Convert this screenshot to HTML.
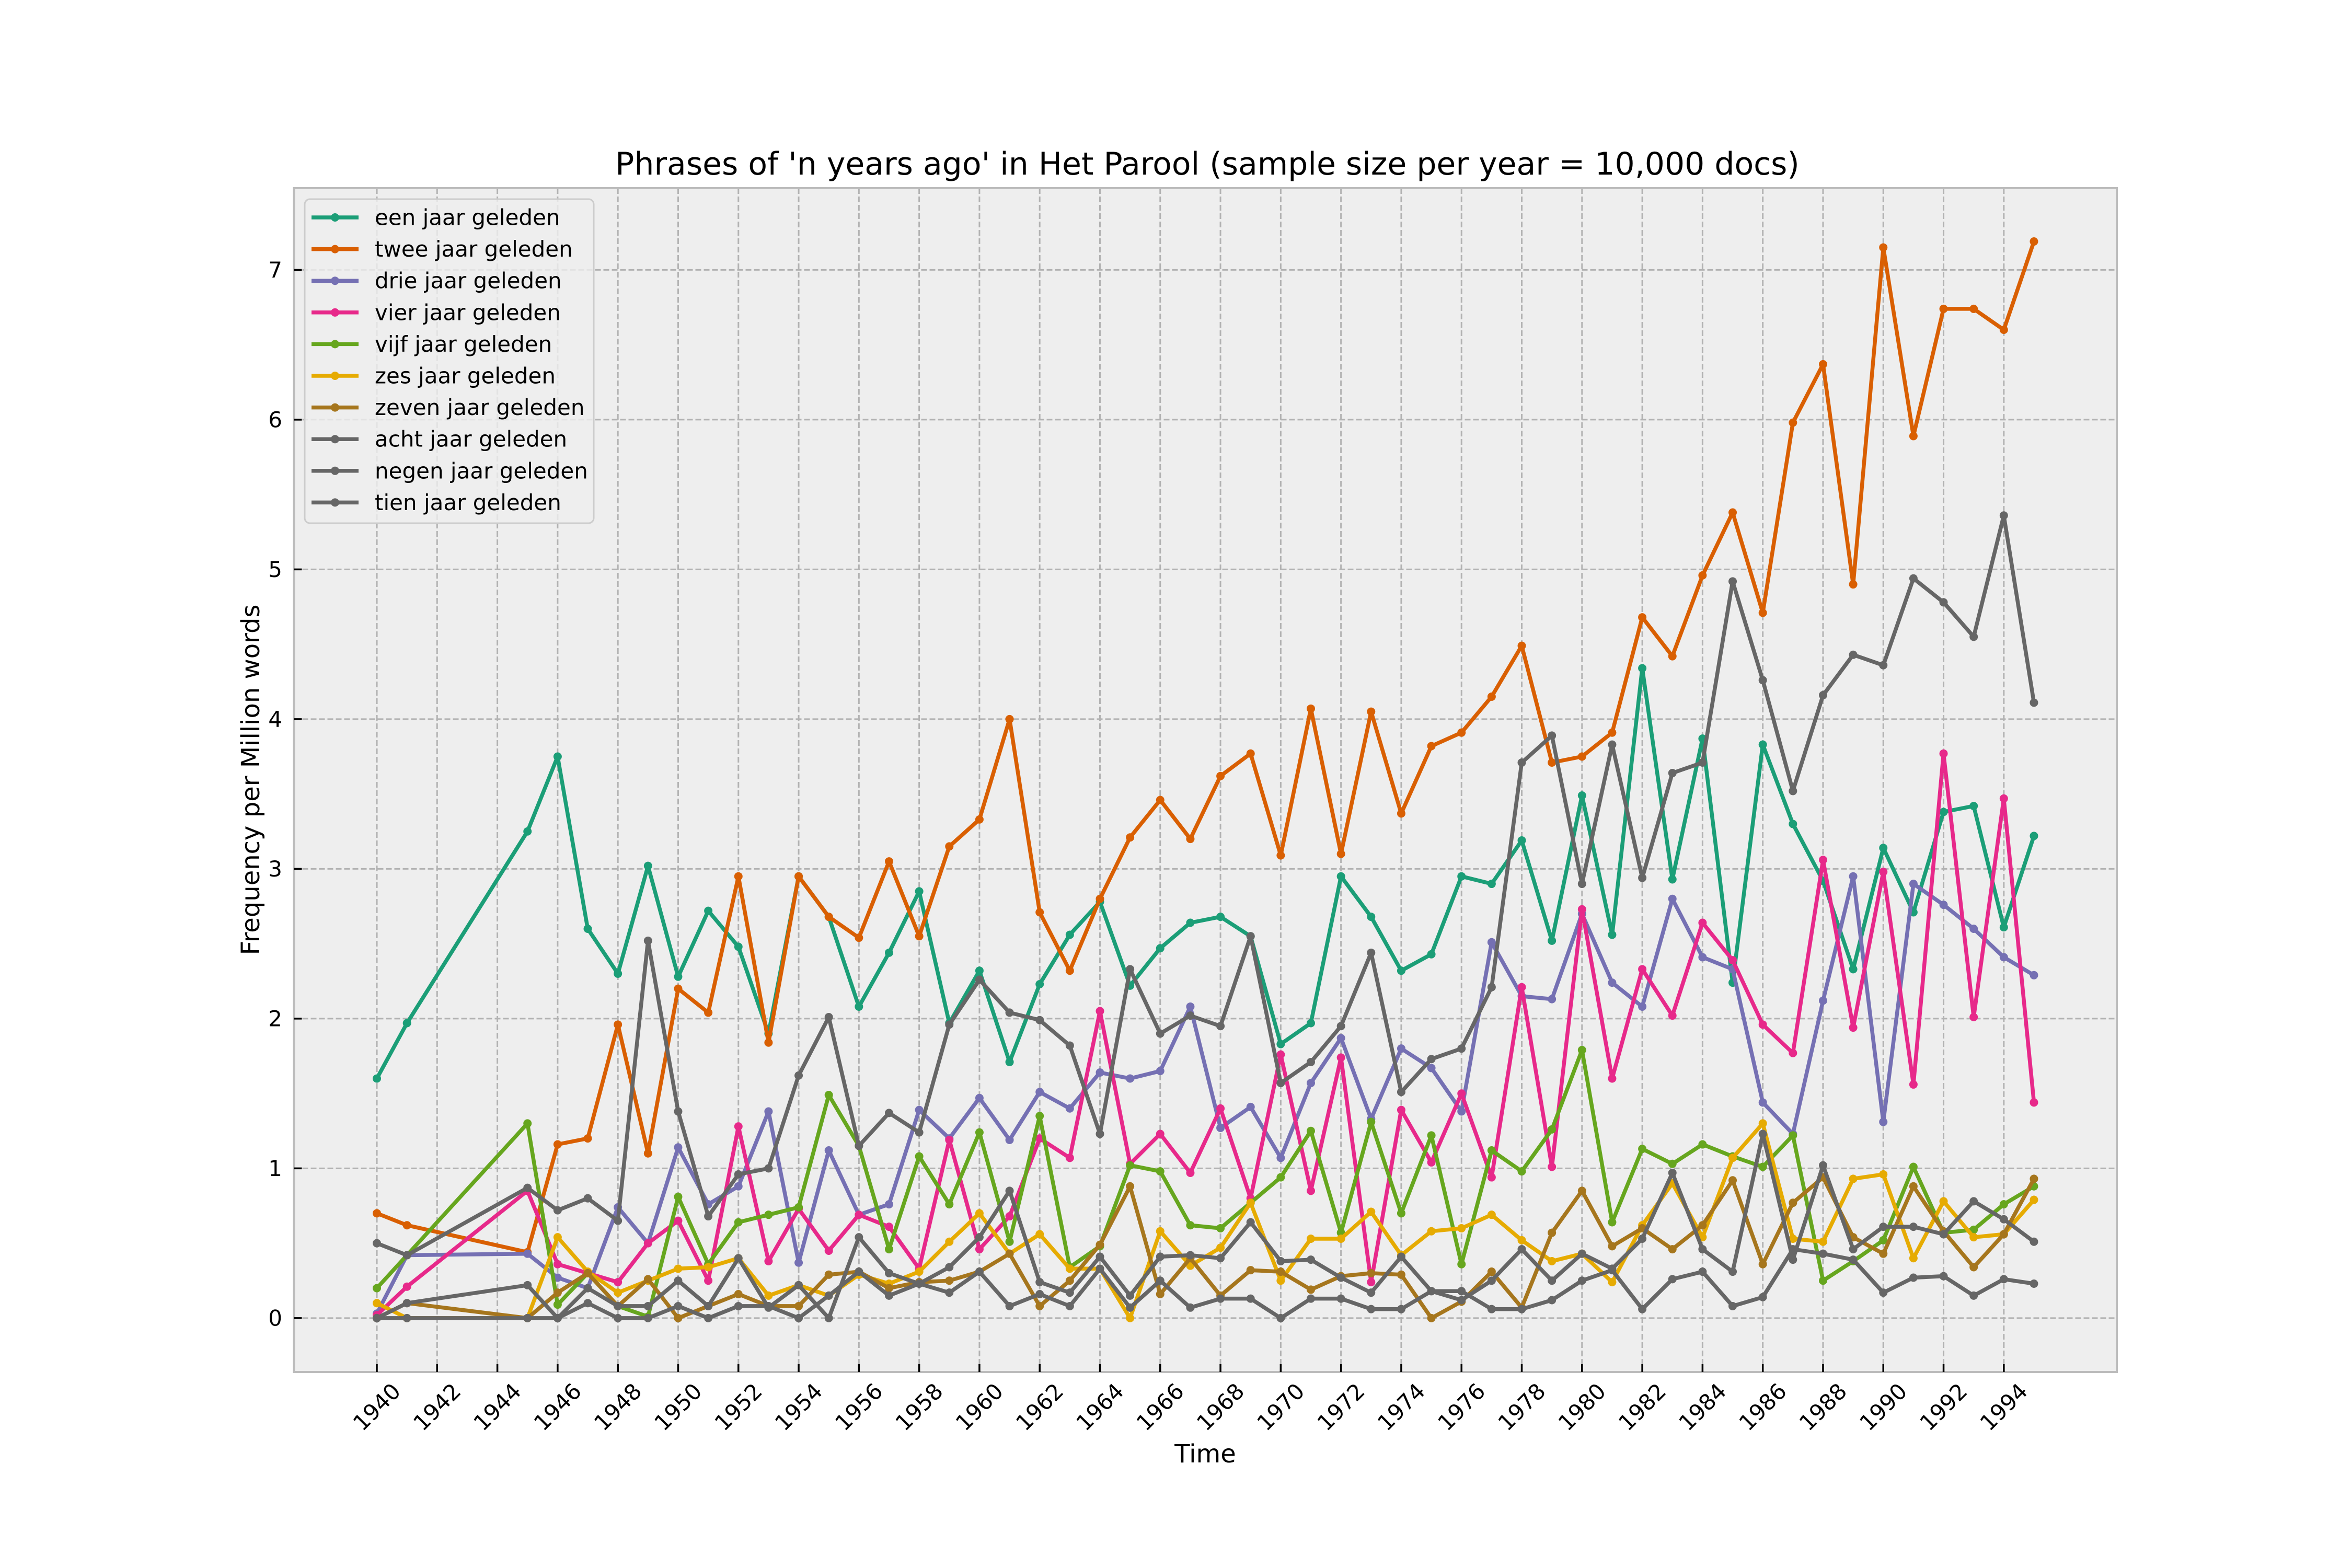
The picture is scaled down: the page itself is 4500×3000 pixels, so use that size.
<!DOCTYPE html>
<html><head><meta charset="utf-8">
<style>
html,body{margin:0;padding:0;background:#fff;}
svg{display:block;font-family:"DejaVu Sans","Liberation Sans",sans-serif;}
</style></head>
<body>
<svg id="chart" xmlns="http://www.w3.org/2000/svg" width="4500" height="3000" viewBox="0 0 4500 3000">
<rect x="0" y="0" width="4500" height="3000" fill="#ffffff"/>
<rect x="562.5" y="360" width="3487.5" height="2265" fill="#eeeeee"/>
<g id="grid"></g>
<g id="series"></g>
<rect x="562.5" y="360" width="3487.5" height="2265" fill="none" stroke="#bcbcbc" stroke-width="4"/>
<g id="ticks"></g>
<text x="2310" y="334" text-anchor="middle" font-size="60" fill="#000">Phrases of 'n years ago' in Het Parool (sample size per year = 10,000 docs)</text>
<text x="2306" y="2798" text-anchor="middle" font-size="48" fill="#000">Time</text>
<text x="0" y="0" transform="translate(496,1492) rotate(-90)" text-anchor="middle" font-size="48" fill="#000">Frequency per Million words</text>
<g id="legend"></g>
</svg>
<script>
const years = [1940,1941,1945,1946,1947,1948,1949,1950,1951,1952,1953,1954,1955,1956,1957,1958,1959,1960,1961,1962,1963,1964,1965,1966,1967,1968,1969,1970,1971,1972,1973,1974,1975,1976,1977,1978,1979,1980,1981,1982,1983,1984,1985,1986,1987,1988,1989,1990,1991,1992,1993,1994,1995];
const seriesNames = ["een jaar geleden","twee jaar geleden","drie jaar geleden","vier jaar geleden","vijf jaar geleden","zes jaar geleden","zeven jaar geleden","acht jaar geleden","negen jaar geleden","tien jaar geleden"];
const een = [1.6,1.97,3.25,3.75,2.6,2.3,3.02,2.28,2.72,2.48,1.9,2.95,2.68,2.08,2.44,2.85,1.97,2.32,1.71,2.23,2.56,2.78,2.22,2.47,2.64,2.68,2.55,1.83,1.97,2.95,2.68,2.32,2.43,2.95,2.9,3.19,2.52,3.49,2.56,4.34,2.93,3.87,2.24,3.83,3.3,2.92,2.33,3.14,2.71,3.38,3.42,2.61,3.22];
const twee = [0.7,0.62,0.44,1.16,1.2,1.96,1.1,2.2,2.04,2.95,1.84,2.95,2.68,2.54,3.05,2.55,3.15,3.33,4.0,2.71,2.32,2.8,3.21,3.46,3.2,3.62,3.77,3.09,4.07,3.1,4.05,3.37,3.82,3.91,4.15,4.49,3.71,3.75,3.91,4.68,4.42,4.96,5.38,4.71,5.98,6.37,4.9,7.15,5.89,6.74,6.74,6.6,7.19];
const drie = [0.03,0.42,0.43,0.27,0.2,0.74,0.5,1.14,0.76,0.88,1.38,0.37,1.12,0.69,0.76,1.39,1.2,1.47,1.19,1.51,1.4,1.64,1.6,1.65,2.08,1.27,1.41,1.07,1.57,1.87,1.33,1.8,1.67,1.38,2.51,2.15,2.13,2.7,2.24,2.08,2.8,2.41,2.33,1.44,1.23,2.12,2.95,1.31,2.9,2.76,2.6,2.41,2.29];
const vier = [0.02,0.21,0.85,0.36,0.3,0.24,0.5,0.65,0.25,1.28,0.38,0.73,0.45,0.69,0.61,0.33,1.19,0.46,0.68,1.2,1.07,2.05,1.03,1.23,0.97,1.4,0.8,1.76,0.85,1.74,0.24,1.39,1.04,1.5,0.94,2.21,1.01,2.73,1.6,2.33,2.02,2.64,2.39,1.96,1.77,3.06,1.94,2.98,1.56,3.77,2.01,3.47,1.44];
const vijf = [0.2,0.42,1.3,0.09,0.3,0.08,0.01,0.81,0.36,0.64,0.69,0.74,1.49,1.15,0.46,1.08,0.76,1.24,0.51,1.35,0.34,0.48,1.02,0.98,0.62,0.6,0.77,0.94,1.25,0.57,1.31,0.7,1.22,0.36,1.12,0.98,1.26,1.79,0.64,1.13,1.03,1.16,1.08,1.01,1.22,0.25,0.38,0.52,1.01,0.57,0.59,0.76,0.88];
const zes = [0.1,0.0,0.0,0.54,0.31,0.17,0.25,0.33,0.34,0.4,0.15,0.22,0.15,0.29,0.23,0.31,0.51,0.7,0.43,0.56,0.33,0.33,0.0,0.58,0.35,0.47,0.77,0.25,0.53,0.53,0.71,0.42,0.58,0.6,0.69,0.52,0.38,0.43,0.24,0.62,0.9,0.54,1.07,1.3,0.53,0.51,0.93,0.96,0.4,0.78,0.54,0.56,0.79];
const zeven = [0.0,0.1,0.0,0.17,0.3,0.08,0.26,0.0,0.08,0.16,0.08,0.08,0.29,0.31,0.2,0.24,0.25,0.31,0.43,0.08,0.25,0.49,0.88,0.16,0.4,0.15,0.32,0.31,0.19,0.28,0.3,0.29,0.0,0.11,0.31,0.07,0.57,0.85,0.48,0.6,0.46,0.62,0.92,0.36,0.77,0.94,0.54,0.43,0.88,0.58,0.34,0.56,0.93];
const acht = [0.5,0.42,0.87,0.72,0.8,0.65,2.52,1.38,0.68,0.96,1.0,1.62,2.01,1.15,1.37,1.24,1.96,2.26,2.04,1.99,1.82,1.23,2.33,1.9,2.02,1.95,2.55,1.57,1.71,1.95,2.44,1.51,1.73,1.8,2.21,3.71,3.89,2.9,3.83,2.94,3.64,3.71,4.92,4.26,3.52,4.16,4.43,4.36,4.94,4.78,4.55,5.36,4.11];
const negen = [0.0,0.0,0.0,0.0,0.1,0.0,0.0,0.08,0.0,0.08,0.08,0.0,0.15,0.31,0.15,0.23,0.34,0.54,0.85,0.24,0.17,0.41,0.15,0.41,0.42,0.4,0.64,0.38,0.39,0.27,0.17,0.41,0.18,0.12,0.25,0.46,0.25,0.43,0.33,0.53,0.97,0.46,0.31,1.23,0.39,1.02,0.46,0.61,0.61,0.56,0.78,0.66,0.51];
const tien = [0.0,0.1,0.22,0.0,0.2,0.08,0.08,0.25,0.08,0.4,0.07,0.22,0.0,0.54,0.3,0.23,0.17,0.31,0.08,0.16,0.08,0.33,0.07,0.25,0.07,0.13,0.13,0.0,0.13,0.13,0.06,0.06,0.18,0.18,0.06,0.06,0.12,0.25,0.32,0.06,0.26,0.31,0.08,0.14,0.46,0.43,0.39,0.17,0.27,0.28,0.15,0.26,0.23];
const xTickLabels = [1940,1942,1944,1946,1948,1950,1952,1954,1956,1958,1960,1962,1964,1966,1968,1970,1972,1974,1976,1978,1980,1982,1984,1986,1988,1990,1992,1994];
const yTickLabels = [0,1,2,3,4,5,6,7];

const allSeries = [een,twee,drie,vier,vijf,zes,zeven,acht,negen,tien];
const colors = ["#1b9e77","#d95f02","#7570b3","#e7298a","#66a61e","#e6ab02","#a6761d","#666666","#666666","#666666"];
const NS = "http://www.w3.org/2000/svg";
const L = 562.5, R = 4050, T = 360, B = 2625;
const xMin = 1937.25, xMax = 1997.75, yMin = -0.36, yMax = 7.546;
function xs(v){ return L + (v - xMin) / (xMax - xMin) * (R - L); }
function ys(v){ return B - (v - yMin) / (yMax - yMin) * (B - T); }
function mk(tag, attrs, parent){
  const e = document.createElementNS(NS, tag);
  for (const k in attrs) e.setAttribute(k, attrs[k]);
  parent.appendChild(e);
  return e;
}
const grid = document.getElementById('grid');
const ticks = document.getElementById('ticks');
xTickLabels.forEach(function(v){
  const x = xs(v);
  const g = mk('line', {x1:x, x2:x, y1:T, y2:B, stroke:'#b2b2b2', 'stroke-width':3, 'stroke-dasharray':'11,5'}, grid);
  
  
  const t = mk('line', {x1:x, x2:x, y1:B-15, y2:B, stroke:'#000', 'stroke-width':3.5}, ticks);
  
  
  const lab = mk('text', {x:x, y:2692, 'font-size':42, 'text-anchor':'middle', 'dominant-baseline':'central', transform:'rotate(-45 '+x+' 2692)', fill:'#000'}, ticks);
  
  
  lab.textContent = v;
});
yTickLabels.forEach(function(v){
  const y = ys(v);
  const g = mk('line', {x1:L, x2:R, y1:y, y2:y, stroke:'#b2b2b2', 'stroke-width':3, 'stroke-dasharray':'11,5'}, grid);
  
  
  const t = mk('line', {x1:L, x2:L+15, y1:y, y2:y, stroke:'#000', 'stroke-width':3.5}, ticks);
  
  
  const lab = mk('text', {x:540, y:y, 'font-size':42, 'text-anchor':'end', 'dominant-baseline':'central', fill:'#000'}, ticks);
  
  
  lab.textContent = v;
});
const sg = document.getElementById('series');
allSeries.forEach(function(data, i){
  const g = mk('g', {}, sg);
  
  
  const pts = data.map(function(v, j){ return xs(years[j]).toFixed(1) + ',' + ys(v).toFixed(1); }).join(' ');
  const pl = mk('polyline', {points:pts, fill:'none', stroke:colors[i], 'stroke-width':7.5, 'stroke-linejoin':'round'}, g);
  
  
  data.forEach(function(v, j){
    const c = mk('circle', {cx:xs(years[j]), cy:ys(v), r:8, fill:colors[i]}, g);
    
    
  });
});
const lg = document.getElementById('legend');
const box = mk('rect', {x:583, y:381, width:553, height:620, rx:10, fill:'#eeeeee', 'fill-opacity':0.8, stroke:'#cccccc', 'stroke-width':3}, lg);


seriesNames.forEach(function(n, i){
  const y = 416 + i * 60.6;
  const g = mk('g', {}, lg);
  
  
  mk('line', {x1:596, x2:686, y1:y, y2:y, stroke:colors[i], 'stroke-width':7.5}, g);
  mk('circle', {cx:641, cy:y, r:8, fill:colors[i]}, g);
  const t = mk('text', {x:717, y:y, 'font-size':42, 'dominant-baseline':'central', fill:'#000'}, g);
  
  
  t.textContent = n;
});
</script>
</body></html>
